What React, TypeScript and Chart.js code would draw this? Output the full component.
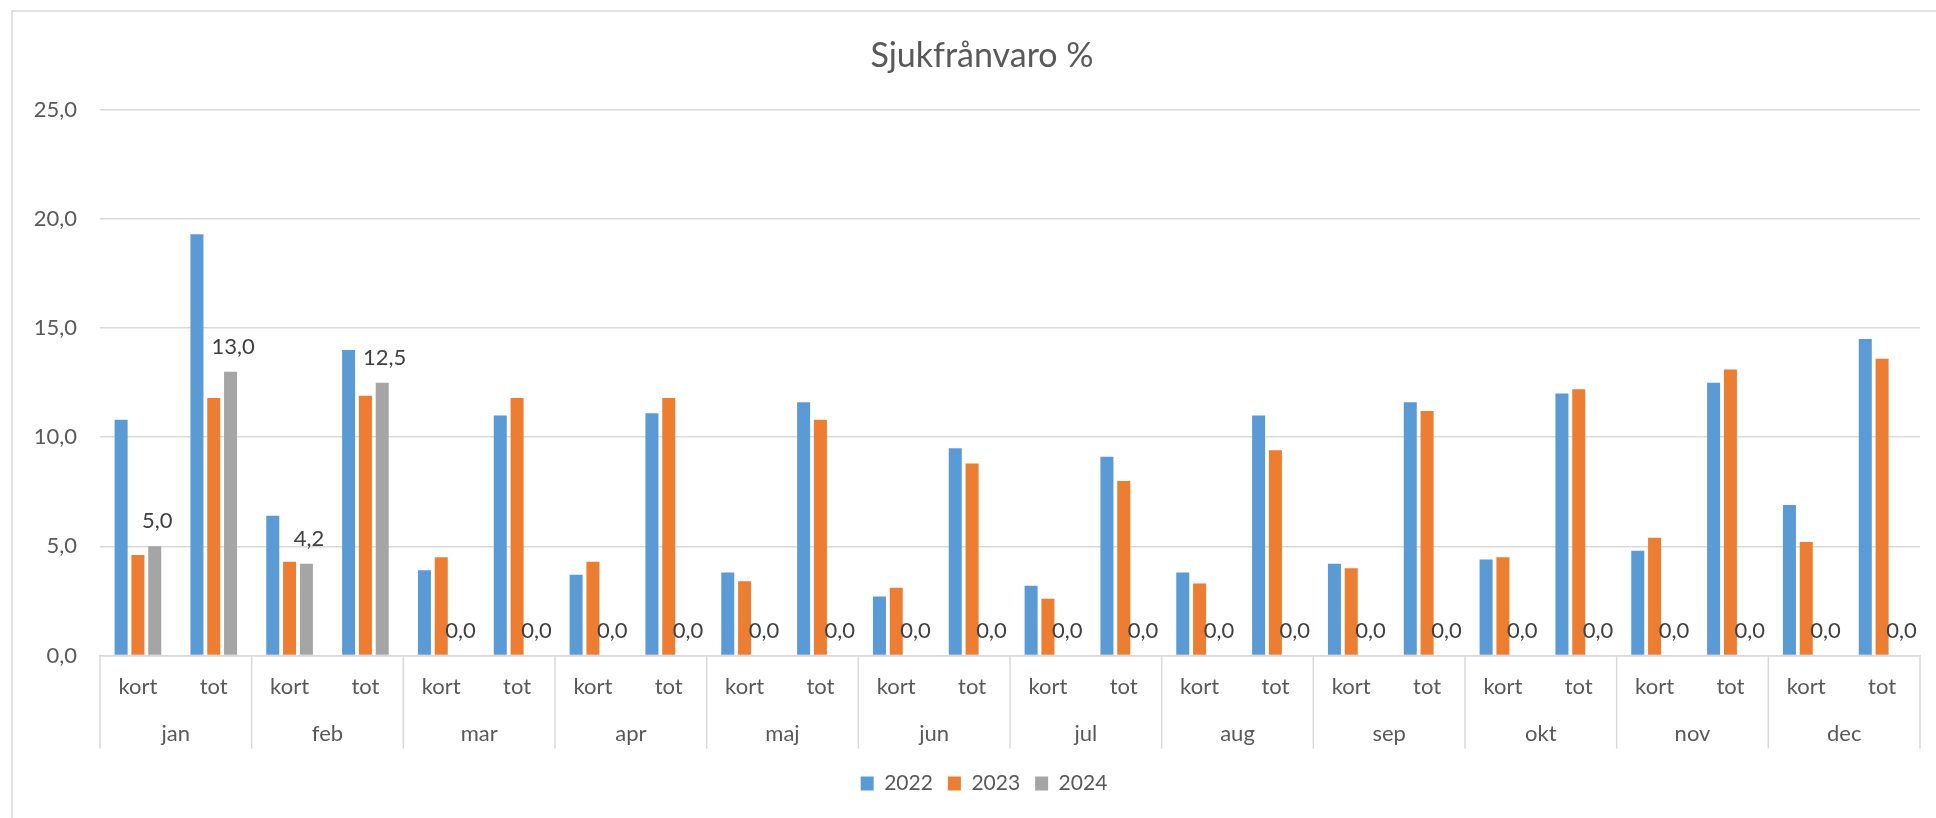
import React, { useEffect, useRef } from "react";
import { Chart, registerables } from "chart.js";

Chart.register(...registerables);

const TITLE = "Sjukfrånvaro %";
const months = ["jan", "feb", "mar", "apr", "maj", "jun", "jul", "aug", "sep", "okt", "nov", "dec"];
const subLabels = ["kort", "tot"];
const seriesNames = ["2022", "2023", "2024"];
const values2022 = [10.8, 19.3, 6.4, 14.0, 3.9, 11.0, 3.7, 11.1, 3.8, 11.6, 2.7, 9.5, 3.2, 9.1, 3.8, 11.0, 4.2, 11.6, 4.4, 12.0, 4.8, 12.5, 6.9, 14.5];
const values2023 = [4.6, 11.8, 4.3, 11.9, 4.5, 11.8, 4.3, 11.8, 3.4, 10.8, 3.1, 8.8, 2.6, 8.0, 3.3, 9.4, 4.0, 11.2, 4.5, 12.2, 5.4, 13.1, 5.2, 13.6];
const values2024 = [5.0, 13.0, 4.2, 12.5, 0, 0, 0, 0, 0, 0, 0, 0, 0, 0, 0, 0, 0, 0, 0, 0, 0, 0, 0, 0];
const yTicks = [0, 5, 10, 15, 20, 25];
const colors = ["#5B9BD5", "#ED7D31", "#A5A5A5"];

const FONT = "Lato";
const TEXT = "#595959";
const GRID = "#d9d9d9";

const fmt = (v: number) => v.toFixed(1).replace(".", ",");

const frame = {
  id: "frame",
  beforeDraw(chart: any) {
    const ctx = chart.ctx;
    ctx.save();
    ctx.fillStyle = "#ffffff";
    ctx.fillRect(0, 0, chart.width, chart.height);
    ctx.strokeStyle = GRID;
    ctx.lineWidth = 1.5;
    ctx.beginPath();
    ctx.moveTo(12, chart.height);
    ctx.lineTo(12, 11);
    ctx.lineTo(chart.width, 11);
    ctx.stroke();
    ctx.restore();
  },
};

// The reference frame is wider than the visible picture, so title and legend sit right of the canvas centre
const shiftBlocks = {
  id: "shiftBlocks",
  afterLayout(chart: any) {
    if (chart.titleBlock) {
      chart.titleBlock.left += 22;
      chart.titleBlock.right += 22;
    }
    if (chart.legend) {
      chart.legend.left += 24;
      chart.legend.right += 24;
    }
  },
};

const groupAxis = {
  id: "groupAxis",
  afterDraw(chart: any) {
    const ctx = chart.ctx;
    const x = chart.scales.x;
    const half = (x.getPixelForValue(1) - x.getPixelForValue(0)) / 2;
    const top = chart.chartArea.bottom;
    const bottom = top + 93;
    ctx.save();
    ctx.strokeStyle = GRID;
    ctx.lineWidth = 1.5;
    for (let i = 0; i <= months.length; i++) {
      const px = i < months.length ? x.getPixelForValue(i * 2) - half : x.getPixelForValue(months.length * 2 - 1) + half;
      ctx.beginPath();
      ctx.moveTo(px, top);
      ctx.lineTo(px, bottom);
      ctx.stroke();
    }
    ctx.fillStyle = TEXT;
    ctx.font = `22px ${FONT}`;
    ctx.textAlign = "center";
    ctx.textBaseline = "middle";
    months.forEach((m, i) => {
      const cx = (x.getPixelForValue(i * 2) + x.getPixelForValue(i * 2 + 1)) / 2;
      ctx.fillText(m, cx, top + 78);
    });
    ctx.restore();
  },
};

const dataLabels = {
  id: "dataLabels",
  afterDatasetsDraw(chart: any) {
    const ctx = chart.ctx;
    const meta = chart.getDatasetMeta(2);
    const ds = chart.data.datasets[2].data as number[];
    ctx.save();
    ctx.fillStyle = "#404040";
    ctx.font = `22px ${FONT}`;
    ctx.textAlign = "center";
    ctx.textBaseline = "middle";
    meta.data.forEach((bar: any, i: number) => {
      ctx.fillText(fmt(ds[i]), bar.x + 2.5, bar.y - 25);
    });
    ctx.restore();
  },
};

export default function App() {
  const ref = useRef<HTMLCanvasElement>(null);
  useEffect(() => {
    let chart: any = null;
    let cancelled = false;
    const make = () => {
      if (cancelled || !ref.current) return;
      chart = new Chart(ref.current, {
        type: "bar",
        data: {
          labels: months.flatMap(() => subLabels),
          datasets: [values2022, values2023, values2024].map((d, i) => ({
            label: seriesNames[i],
            data: d,
            backgroundColor: colors[i],
            borderWidth: 0,
            categoryPercentage: 0.665,
            barPercentage: 0.774,
          })),
        },
        options: {
          animation: false,
          responsive: false,
          layout: { padding: { left: 0, right: 16, top: 0, bottom: 14 } },
          plugins: {
            title: {
              display: true,
              text: TITLE,
              color: TEXT,
              font: { family: FONT, size: 34, weight: "normal" },
              padding: { top: 36, bottom: 33 },
            },
            legend: {
              position: "bottom",
              labels: {
                color: TEXT,
                font: { family: FONT, size: 21 },
                boxWidth: 13,
                boxHeight: 14,
                padding: 15,
              },
            },
            tooltip: { enabled: false },
          },
          scales: {
            x: {
              grid: { display: false, drawTicks: false },
              border: { color: GRID, width: 1.5 },
              ticks: { color: TEXT, font: { family: FONT, size: 22 }, padding: 18, maxRotation: 0, autoSkip: false },
              afterFit(scale: any) {
                scale.height = 102.5;
              },
            },
            y: {
              min: 0,
              max: 25,
              afterBuildTicks(scale: any) {
                scale.ticks = yTicks.map((v) => ({ value: v }));
              },
              grid: { color: GRID, lineWidth: 1.5, drawTicks: false },
              border: { display: false },
              ticks: {
                color: TEXT,
                font: { family: FONT, size: 22 },
                padding: 23,
                callback: (v: any) => fmt(Number(v)),
              },
              afterFit(scale: any) {
                scale.width = 100;
              },
            },
          },
        },
        plugins: [frame, shiftBlocks, groupAxis, dataLabels],
      });
    };
    const fontsReady = (document as any).fonts ? (document as any).fonts.load(`22px ${FONT}`).catch(() => null) : Promise.resolve();
    fontsReady.then(make);
    return () => {
      cancelled = true;
      if (chart) chart.destroy();
    };
  }, []);
  return (
    <div style={{ position: "fixed", left: 0, top: 0, width: 1936, height: 818, background: "#fff" }}>
      <canvas ref={ref} width={1936} height={818} style={{ display: "block" }} />
    </div>
  );
}
